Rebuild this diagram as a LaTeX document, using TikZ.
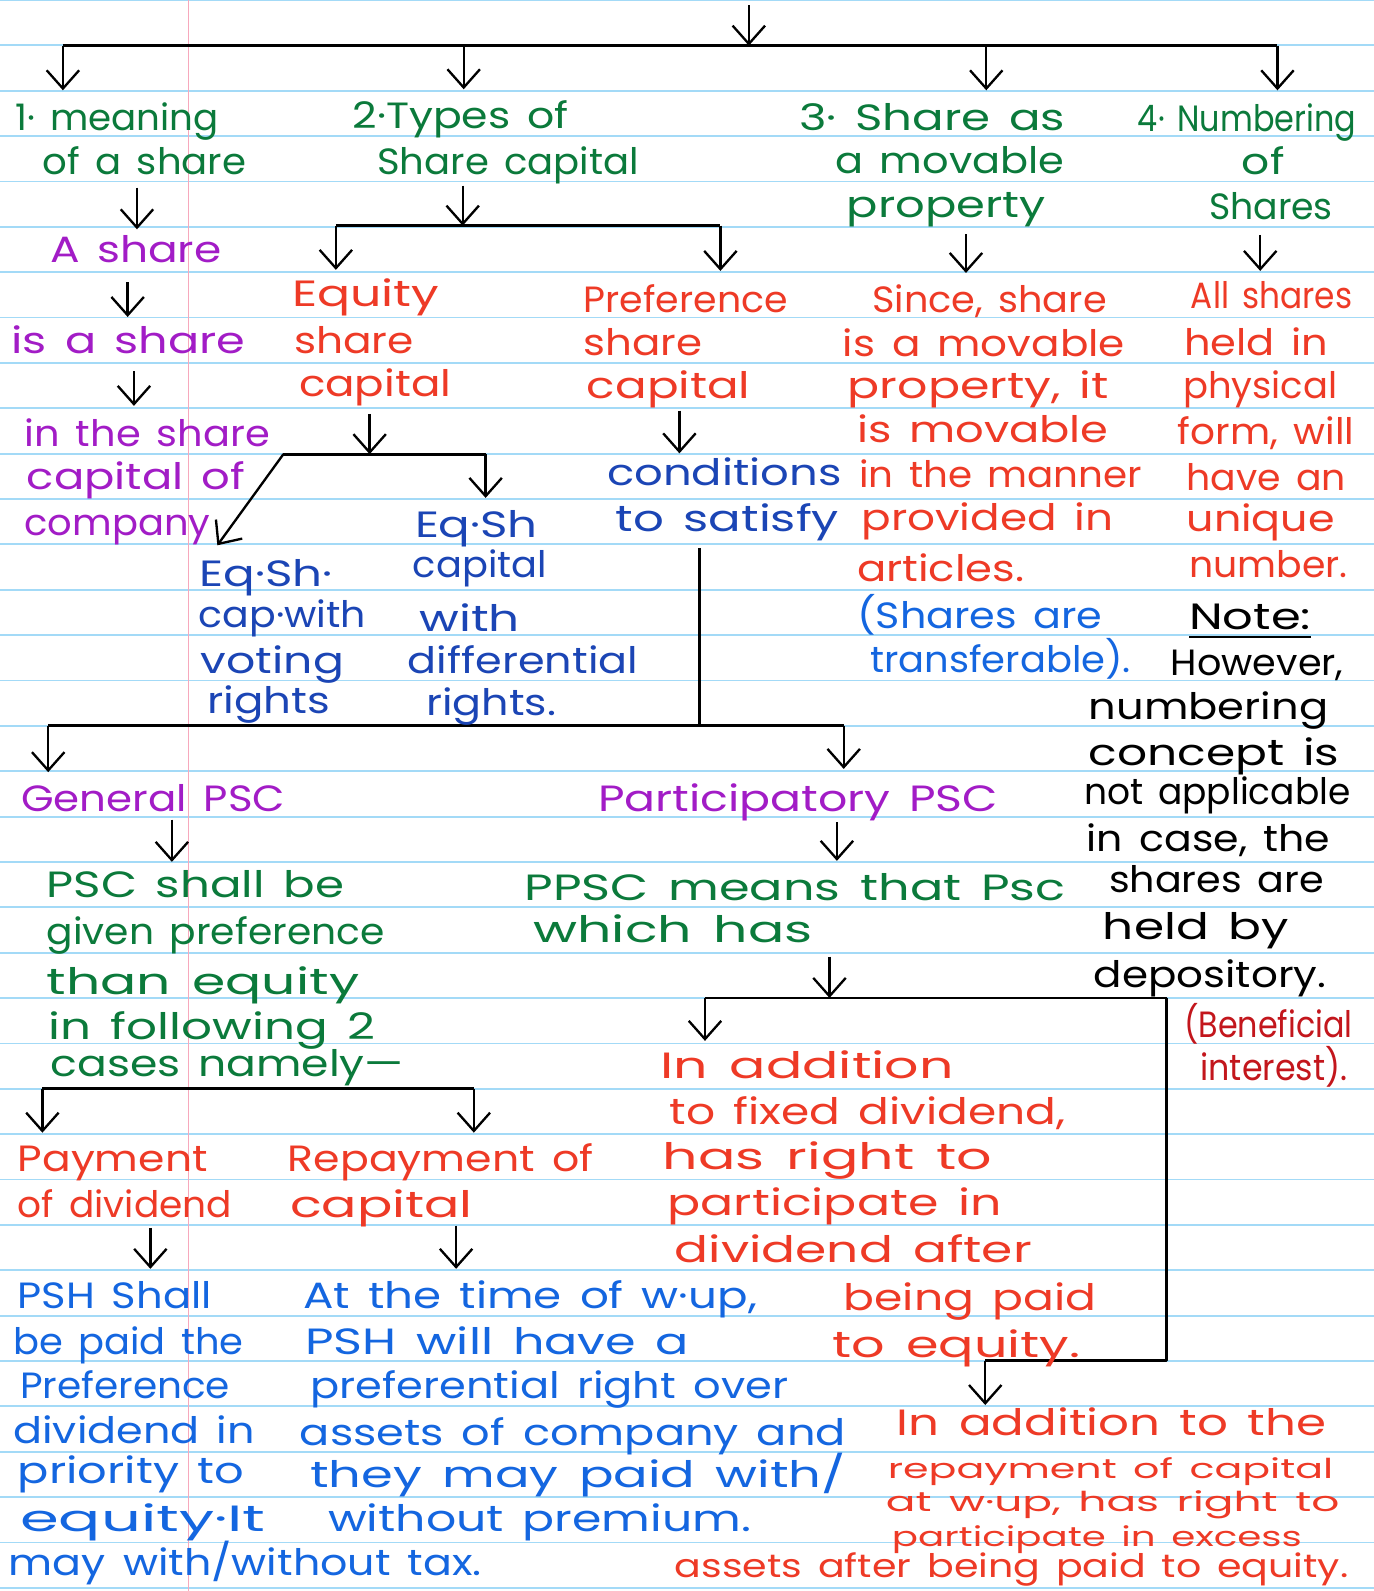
\documentclass[tikz,border=0pt]{standalone}
\usepackage{fontspec}
\usepackage{graphicx}
\setmainfont{Poppins}[WordSpace=1.5]
\usetikzlibrary{arrows.meta}

\definecolor{ruleblue}{HTML}{A3DAF7}
\definecolor{marginpink}{HTML}{F7A8BC}
\definecolor{inkgreen}{HTML}{0B7A3B}
\definecolor{inkpurple}{HTML}{A21CC6}
\definecolor{inkred}{HTML}{EE3A26}
\definecolor{inkdarkred}{HTML}{C3161C}
\definecolor{inknavy}{HTML}{1B45B5}
\definecolor{inkblue}{HTML}{1466E0}

\tikzset{
  hand/.style={anchor=base west, inner sep=0pt, outer sep=0pt,
               font=\fontsize{36}{40}\selectfont},
  midhand/.style={hand, font=\fontsize{32}{36}\selectfont},
  smallhand/.style={hand, font=\fontsize{27}{30}\selectfont},
  ruleline/.style={draw=ruleblue, line width=1.8pt},
  joinbar/.style={draw=black, line width=2.8pt, line join=round},
  arr/.style={draw=black, line width=2.3pt, line join=round,
              -{Straight Barb[length=18pt,width=32pt]}},
}

% one handwritten line: name, left x, baseline y, width, ink colour, text
\newcommand\handline[6]{\node[hand,text=#5] (#1) at (#2,#3) {\resizebox{#4pt}{\height}{#6}};}
\newcommand\midline[6]{\node[midhand,text=#5] (#1) at (#2,#3) {\resizebox{#4pt}{\height}{#6}};}
\newcommand\smallline[6]{\node[smallhand,text=#5] (#1) at (#2,#3) {\resizebox{#4pt}{\height}{#6}};}

\begin{document}
\begin{tikzpicture}[x=1pt,y=-1pt]
\useasboundingbox (0,0) rectangle (1354,1568);
\fill[white] (0,0) rectangle (1354,1568);

% ruled paper
\foreach \k in {0,...,35}
  \draw[ruleline] (0,{44.71*\k}) -- (1354,{44.71*\k});
\draw[marginpink, line width=1.3pt] (186,0) -- (186,1568);

% ---------- junction points ----------
\coordinate (a0) at (738,5);      \coordinate (a1) at (738,45);
\coordinate (h1L) at (62,45);     \coordinate (h1B) at (457,45);
\coordinate (h1C) at (972,45);    \coordinate (h1R) at (1259,45);
\coordinate (m1) at (62,89);      \coordinate (m2) at (457,88);
\coordinate (m3) at (972,89);     \coordinate (m4) at (1259,89);

\coordinate (b1s) at (135,185);   \coordinate (b1e) at (135,226);
\coordinate (b2s) at (456,183);   \coordinate (b2j) at (456,222.4);
\coordinate (b2L) at (331,222.4); \coordinate (b2R) at (710,222.4);
\coordinate (b2Le) at (331,266);  \coordinate (b2Re) at (710,267);
\coordinate (b3s) at (952,231);   \coordinate (b3e) at (952,269);
\coordinate (b4s) at (1242,231.5);\coordinate (b4e) at (1242,267);

\coordinate (c1s) at (125.8,278); \coordinate (c1e) at (125.8,312.4);
\coordinate (c2s) at (132,366);   \coordinate (c2e) at (132,400);

\coordinate (e1s) at (364.3,408); \coordinate (e1j) at (364.3,447.6);
\coordinate (e1L) at (279.3,447.6); \coordinate (e1R) at (478.6,447.6);
\coordinate (e1d) at (214.2,537.4); \coordinate (e1Re) at (478.6,490.7);
\coordinate (f1s) at (669.6,404.6); \coordinate (f1e) at (669.6,446.8);

\coordinate (v1s) at (689.7,540); \coordinate (v1j) at (689.7,715.4);
\coordinate (v1L) at (47.5,715.4); \coordinate (v1R) at (831.5,715.4);
\coordinate (v1Le) at (47.5,761); \coordinate (v1Re) at (831.5,757.8);

\coordinate (g0s) at (169.4,807.7); \coordinate (g0e) at (169.4,849.4);
\coordinate (p0s) at (824.8,810.4); \coordinate (p0e) at (824.8,848.4);

\coordinate (p2s) at (817.5,942.8); \coordinate (p2j) at (817.5,983.5);
\coordinate (p2L) at (694.8,983.5); \coordinate (p2R) at (1150,983.5);
\coordinate (p2Le) at (694.8,1025.8);
\coordinate (p2c) at (1150,1341);   \coordinate (p2d) at (971,1341);
\coordinate (p2de) at (971,1384.7);

\coordinate (g5L) at (41.8,1073);   \coordinate (g5R) at (467,1073);
\coordinate (g5Le) at (41.8,1116.3); \coordinate (g5Re) at (467,1116.3);
\coordinate (y2s) at (148.2,1210);  \coordinate (y2e) at (148.2,1250.5);
\coordinate (z2s) at (449.5,1208);  \coordinate (z2e) at (449.5,1250.5);

% ---------- connectors ----------
\draw[arr] (a0) -- (a1);
\draw[joinbar] (h1L) -- (h1R);
\draw[arr] (h1L) -- (m1);
\draw[arr] (h1B) -- (m2);
\draw[arr] (h1C) -- (m3);
\draw[arr] (h1R) -- (m4);

\draw[arr] (b1s) -- (b1e);
\draw[arr] (b2s) -- (b2j);
\draw[joinbar] (b2L) -- (b2R);
\draw[arr] (b2L) -- (b2Le);
\draw[arr] (b2R) -- (b2Re);
\draw[arr] (b3s) -- (b3e);
\draw[arr] (b4s) -- (b4e);

\draw[arr] (c1s) -- (c1e);
\draw[arr] (c2s) -- (c2e);

\draw[arr] (e1s) -- (e1j);
\draw[joinbar] (e1L) -- (e1R);
\draw[arr] (e1L) -- (e1d);
\draw[arr] (e1R) -- (e1Re);
\draw[arr] (f1s) -- (f1e);

\draw[joinbar] (v1s) -- (v1j);
\draw[joinbar] (v1L) -- (v1R);
\draw[arr] (v1L) -- (v1Le);
\draw[arr] (v1R) -- (v1Re);

\draw[arr] (g0s) -- (g0e);
\draw[arr] (p0s) -- (p0e);

\draw[arr] (p2s) -- (p2j);
\draw[joinbar] (p2L) -- (p2R);
\draw[arr] (p2L) -- (p2Le);
\draw[joinbar] (p2R) -- (p2c) -- (p2d);
\draw[arr] (p2d) -- (p2de);

\draw[joinbar] (g5L) -- (g5R);
\draw[arr] (g5L) -- (g5Le);
\draw[arr] (g5R) -- (g5Re);
\draw[arr] (y2s) -- (y2e);
\draw[arr] (z2s) -- (z2e);

% ---------- headings ----------
\handline{t1a}{15.4}{128.4}{200}{inkgreen}{1· meaning}
\handline{t1b}{41.8}{172}{201}{inkgreen}{of a share}
\handline{t2a}{347.5}{126.6}{213}{inkgreen}{2·Types of}
\handline{t2b}{371.8}{172}{258}{inkgreen}{Share capital}
\handline{t3a}{787.8}{128.4}{262}{inkgreen}{3· Share as}
\handline{t3b}{823}{170.6}{226}{inkgreen}{a movable}
\handline{t3c}{834.6}{214.6}{196}{inkgreen}{property}
\handline{t4a}{1121.5}{130}{215}{inkgreen}{4· Numbering}
\handline{t4b}{1224}{172}{42}{inkgreen}{of}
\handline{t4c}{1191.6}{216.4}{122}{inkgreen}{Shares}

% ---------- meaning of a share ----------
\handline{s1}{49.3}{258.6}{169}{inkpurple}{A share}
\handline{s2}{11}{348.3}{231}{inkpurple}{is a share}
\handline{s3}{24.2}{440}{242}{inkpurple}{in the share}
\handline{s4}{26.4}{482}{215}{inkpurple}{capital of}
\handline{s5}{24.2}{528}{183}{inkpurple}{company}

% ---------- types of share capital ----------
\handline{e1}{288}{302}{145}{inkred}{Equity}
\handline{e2}{290}{348}{118}{inkred}{share}
\handline{e3}{294.7}{390.7}{150}{inkred}{capital}
\handline{f1}{575.4}{307.7}{201}{inkred}{Preference}
\handline{f2}{575.4}{350}{117}{inkred}{share}
\handline{f3}{578.5}{393}{161}{inkred}{capital}

\handline{c1}{598.3}{478.4}{231}{inknavy}{conditions}
\handline{c2}{607}{524}{220}{inknavy}{to satisfy}
\handline{q1}{196.7}{578}{131}{inknavy}{Eq·Sh·}
\handline{q2}{195.8}{618.7}{165}{inknavy}{cap·with}
\handline{q3}{198}{664}{141}{inknavy}{voting}
\handline{q4}{204.6}{703.6}{121}{inknavy}{rights}
\handline{d1}{409}{529.5}{121}{inknavy}{Eq·Sh}
\handline{d2}{407}{569.5}{132}{inknavy}{capital}
\handline{d3}{413.5}{622}{99}{inknavy}{with}
\handline{d4}{402}{664}{227}{inknavy}{differential}
\handline{d5}{420}{705}{128}{inknavy}{rights.}

% ---------- share as a movable property ----------
\handline{mv1}{859.8}{307.7}{231}{inkred}{Since, share}
\handline{mv2}{830.7}{351.8}{278}{inkred}{is a movable}
\handline{mv3}{835.6}{392.3}{257}{inkred}{property, it}
\handline{mv4}{844.6}{436}{248}{inkred}{is movable}
\handline{mv5}{846.7}{480.2}{279}{inkred}{in the manner}
\handline{mv6}{849}{522.5}{248}{inkred}{provided in}
\handline{mv7}{844.6}{572.6}{165}{inkred}{articles.}
\handline{mv8}{844.6}{619}{242}{inkblue}{(Shares are}
\handline{mv9}{857.6}{662.8}{257}{inkblue}{transferable).}

% ---------- numbering of shares ----------
\handline{n1}{1173.7}{304.3}{159}{inkred}{All shares}
\handline{n2}{1167}{350}{142}{inkred}{held in}
\handline{n3}{1166}{392.3}{152}{inkred}{physical}
\handline{n4}{1160.8}{438}{174}{inkred}{form, will}
\handline{n5}{1169.5}{483.8}{157}{inkred}{have an}
\handline{n6}{1169.5}{524}{146}{inkred}{unique}
\handline{n7}{1172}{569.6}{156}{inkred}{number.}
\handline{k1}{1172}{620}{120}{black}{Note:}
\draw[black, line width=2.2pt] ([yshift=-8pt]k1.base west) -- ([yshift=-8pt]k1.base east);
\handline{k2}{1154}{666}{170}{black}{However,}
\handline{k3}{1073}{708.6}{236}{black}{numbering}
\handline{k4}{1073}{754}{247}{black}{concept is}
\handline{k5}{1069}{793}{262}{black}{not applicable}
\handline{k6}{1071}{839}{240}{black}{in case, the}
\handline{k7}{1093}{880}{212}{black}{shares are}
\handline{k8}{1087}{925.8}{183}{black}{held by}
\handline{k9}{1078}{973}{229}{black}{depository.}
\handline{k10}{1167}{1022.6}{166}{inkdarkred}{(Beneficial}
\handline{k11}{1183}{1065}{145}{inkdarkred}{interest).}

% ---------- kinds of preference share capital ----------
\handline{g0}{21}{800}{260}{inkpurple}{General PSC}
\handline{p0}{589.5}{800}{394}{inkpurple}{Participatory PSC}

\handline{g1}{46}{885}{293}{inkgreen}{PSC shall be}
\handline{g2}{46}{931}{333}{inkgreen}{given preference}
\handline{g3}{46}{980}{308}{inkgreen}{than equity}
\handline{g4}{48}{1024}{322}{inkgreen}{in following 2}
\handline{g5}{50}{1061}{348}{inkgreen}{cases namely—}
\handline{p1}{517}{887}{533}{inkgreen}{PPSC means that Psc}
\handline{p2}{525.7}{929}{275}{inkgreen}{which has}

\handline{r1}{651}{1063}{289}{inkred}{In addition}
\handline{r2}{660}{1108}{390}{inkred}{to fixed dividend,}
\handline{r3}{653}{1153}{325}{inkred}{has right to}
\handline{r4}{658}{1198}{329}{inkred}{participate in}
\handline{r5}{665}{1244.6}{352}{inkred}{dividend after}
\handline{r6}{831.5}{1291.5}{249}{inkred}{being paid}
\handline{r7}{820.6}{1338}{244}{inkred}{to equity.}

\handline{y1}{17.6}{1154.6}{187}{inkred}{Payment}
\handline{y2}{17.6}{1199.8}{211}{inkred}{of dividend}
\handline{z1}{283.8}{1154.6}{301}{inkred}{Repayment of}
\handline{z2}{286}{1200}{180}{inkred}{capital}

\handline{w1}{17.6}{1289.8}{191}{inkblue}{PSH Shall}
\handline{w2}{13.2}{1334.8}{227}{inkblue}{be paid the}
\handline{w3}{19.8}{1378}{207}{inkblue}{Preference}
\handline{w4}{13.2}{1423}{238}{inkblue}{dividend in}
\handline{w5}{17.6}{1462}{223}{inkblue}{priority to}
\handline{w6}{19.8}{1509.6}{242}{inkblue}{equity·It}
\handline{w7}{8.8}{1553}{466}{inkblue}{may with/without tax.}

\handline{u1}{299}{1290}{447}{inkblue}{At the time of w·up,}
\handline{u2}{301}{1335}{378}{inkblue}{PSH will have a}
\handline{u3}{305.8}{1378}{471}{inkblue}{preferential right over}
\handline{u4}{295.6}{1425}{538}{inkblue}{assets of company and}
\handline{u5}{305.8}{1466}{528}{inkblue}{they may paid with/}
\handline{u6}{323.4}{1509.6}{417}{inkblue}{without premium.}

\handline{x1}{884}{1415}{423}{inkred}{In addition to the}
\smallline{x2}{875}{1457}{439}{inkred}{repayment of capital}
\smallline{x3}{873}{1490}{447}{inkred}{at w·up, has right to}
\smallline{x4}{879}{1524}{404}{inkred}{participate in excess}
\midline{x5}{665}{1555}{664}{inkred}{assets after being paid to equity.}
\end{tikzpicture}
\end{document}
